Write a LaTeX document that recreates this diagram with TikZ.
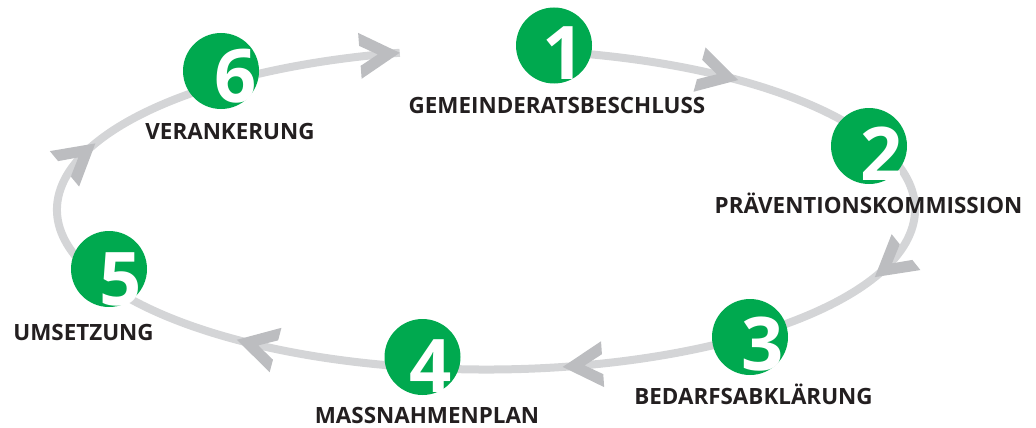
\documentclass[tikz,border=0pt]{standalone}
\usepackage{fontspec}
\setmainfont{Open Sans}
\usetikzlibrary{positioning}
\definecolor{stepgreen}{HTML}{00A94F}
\definecolor{ringgray}{HTML}{D4D5D7}
\definecolor{tipgray}{HTML}{BCBDC0}
\definecolor{captionblack}{HTML}{231F20}

\tikzset{
		stage/.style={
			circle, minimum size=76pt, inner sep=0pt, fill=stepgreen},
		digit/.style={
			anchor=base, inner sep=0pt, text=white, font=\fontsize{74}{74}\selectfont\bfseries},
		caption/.style={
			anchor=base, inner sep=0pt, text=captionblack, font=\fontsize{22.4}{24}\selectfont\bfseries},
		ring/.style={draw=ringgray, line width=8pt},
		chevron/.pic={
			\fill[tipgray] (0,0) -- (-40,23) -- (-40,10) -- (-22,0) -- (-40,-10) -- (-40,-23) -- cycle;},
	}

\begin{document}
\begin{tikzpicture}[x=1pt, y=-1pt]
			\useasboundingbox (0,0) rectangle (1036,428);
			\coordinate (O) at (486,209.5);
			\draw[ring] ([shift={(-81:429 and 160)}]O) arc[start angle=-81, end angle=258.4, x radius=429, y radius=160];
			\pic[rotate=-15.2] at ([shift={(-54:429 and 160)}]O) {chevron};
			\pic[rotate=-141.3] at ([shift={(25:429 and 160)}]O) {chevron};
			\pic[rotate=-176.1] at ([shift={(79.7:429 and 160)}]O) {chevron};
			\pic[rotate=165.1] at ([shift={(125.5:429 and 160)}]O) {chevron};
			\pic[rotate=39.5] at ([shift={(204.4:429 and 160)}]O) {chevron};
			\pic[rotate=4.4] at ([shift={(258.4:429 and 160)}]O) {chevron};
			\node[stage] (s1) at (554,45.5) {};
			\node[stage] (s2) at (869,146) {};
			\node[stage] (s3) at (750,337) {};
			\node[stage] (s4) at (422.5,357) {};
			\node[stage] (s5) at (109,269) {};
			\node[stage] (s6) at (221,71) {};
			\node[digit] (d1) at ([shift={(10,34.5)}]s1.center) {1};
			\node[digit] (d2) at ([shift={(13,34)}]s2.center) {2};
			\node[digit] (d3) at ([shift={(13,33)}]s3.center) {3};
			\node[digit] (d4) at ([shift={(8.5,35)}]s4.center) {4};
			\node[digit] (d5) at ([shift={(12,36)}]s5.center) {5};
			\node[digit] (d6) at ([shift={(14.5,31)}]s6.center) {6};
			\node[caption] (c1) at ([shift={(3,67.5)}]s1.center) {GEMEINDERATSBESCHLUSS};
			\node[caption] (c2) at ([shift={(-0.5,67)}]s2.center) {PRÄVENTIONSKOMMISSION};
			\node[caption] (c3) at ([shift={(3.5,67)}]s3.center) {BEDARFSABKLÄRUNG};
			\node[caption] (c4) at ([shift={(4.5,66)}]s4.center) {MASSNAHMENPLAN};
			\node[caption] (c5) at ([shift={(-25.5,71)}]s5.center) {UMSETZUNG};
			\node[caption] (c6) at ([shift={(9,68)}]s6.center) {VERANKERUNG};
\end{tikzpicture}
\end{document}
